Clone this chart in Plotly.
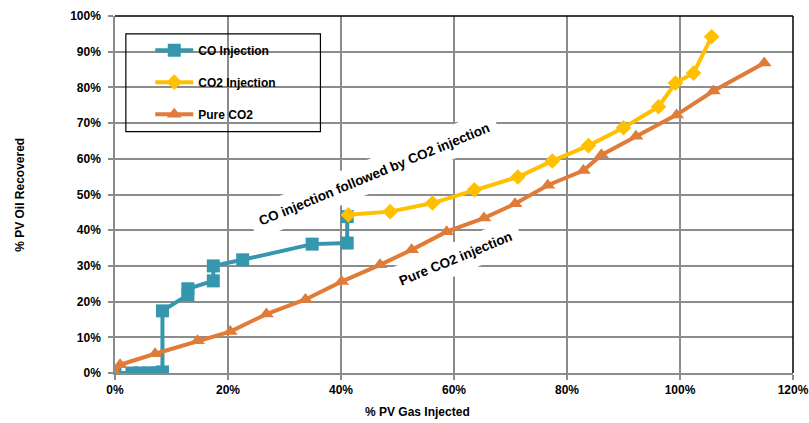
import plotly.graph_objects as go

# CO Injection (teal squares)
co_x = [0.0, 0.03, 0.045, 0.06, 0.07, 0.08, 0.084, 0.084, 0.129, 0.129, 0.174, 0.174, 0.226, 0.349, 0.411, 0.411]
co_y = [0.0, 0.0, 0.0, 0.0, 0.0, 0.0, 0.003, 0.174, 0.219, 0.236, 0.258, 0.300, 0.317, 0.361, 0.364, 0.438]

# CO2 Injection (yellow diamonds)
co2_x = [0.413, 0.487, 0.562, 0.636, 0.713, 0.774, 0.838, 0.900, 0.962, 0.992, 1.024, 1.056]
co2_y = [0.443, 0.452, 0.476, 0.513, 0.549, 0.594, 0.637, 0.687, 0.746, 0.812, 0.840, 0.942]

# Pure CO2 (orange triangles)
pure_x = [0.0, 0.009, 0.071, 0.146, 0.204, 0.268, 0.337, 0.401, 0.469, 0.525, 0.587, 0.653, 0.708, 0.766, 0.829, 0.861, 0.922, 0.994, 1.059, 1.149]
pure_y = [0.0, 0.023, 0.054, 0.090, 0.116, 0.165, 0.206, 0.256, 0.303, 0.345, 0.396, 0.434, 0.474, 0.526, 0.567, 0.611, 0.663, 0.723, 0.790, 0.868]

x_ticks = [0, 0.2, 0.4, 0.6, 0.8, 1.0, 1.2]
x_tick_labels = ["0%", "20%", "40%", "60%", "80%", "100%", "120%"]
y_ticks = [i / 10 for i in range(11)]
y_tick_labels = [f"{i*10}%" for i in range(11)]

TEAL = "#3597AE"
YELLOW = "#FFC000"
ORANGE = "#E07B39"
GRID = "#8C8C8C"
FONT = "Liberation Sans, Arial, sans-serif"

fig = go.Figure()
fig.add_trace(go.Scatter(x=co_x, y=co_y, mode="lines+markers", name="CO Injection",
                         legendgroup="a",
                         line=dict(color=TEAL, width=4),
                         marker=dict(symbol="square", size=13, color=TEAL)))
fig.add_trace(go.Scatter(x=co2_x, y=co2_y, mode="lines+markers", name="CO2 Injection",
                         legendgroup="b",
                         line=dict(color=YELLOW, width=4),
                         marker=dict(symbol="diamond", size=12, color=YELLOW)))
fig.add_trace(go.Scatter(x=pure_x, y=pure_y, mode="lines+markers", name="Pure CO2",
                         legendgroup="c",
                         line=dict(color=ORANGE, width=4),
                         marker=dict(symbol="triangle-up", size=13, color=ORANGE)))

axis_common = dict(showgrid=True, gridcolor=GRID, gridwidth=1.5,
                   showline=True, linecolor=GRID, linewidth=1.5,
                   ticks="outside", ticklen=5, tickcolor=GRID, tickwidth=1.5,
                   zeroline=False, automargin=False,
                   tickfont=dict(family=FONT, size=12, color="black", weight="bold"))

fig.update_layout(
    width=809, height=423, autosize=False,
    margin=dict(l=115, r=16, t=16, b=50),
    plot_bgcolor="white", paper_bgcolor="white",
    font=dict(family=FONT, color="black"),
    xaxis=dict(range=[0, 1.2], tickvals=x_ticks, ticktext=x_tick_labels, **axis_common),
    yaxis=dict(range=[0, 1.0], tickvals=y_ticks, ticktext=y_tick_labels,
               ticklabelstandoff=5, **axis_common),
    showlegend=True,
    legend=dict(x=0.052, y=0.945, xanchor="left", yanchor="top",
                bgcolor="rgba(0,0,0,0)", borderwidth=0,
                tracegroupgap=13, itemwidth=38,
                font=dict(family=FONT, size=12, color="black", weight="bold")),
)

# legend frame and top/right plot border (decorative)
fig.add_shape(type="rect", xref="paper", yref="paper", x0=0.016, x1=0.303, y0=0.676, y1=0.950,
              line=dict(color="black", width=1.2), fillcolor="rgba(0,0,0,0)", layer="above")
fig.add_shape(type="line", xref="paper", yref="paper", x0=0, x1=1, y0=1, y1=1,
              line=dict(color="black", width=1.5))
fig.add_shape(type="line", xref="paper", yref="paper", x0=1, x1=1, y0=0, y1=1,
              line=dict(color="black", width=1.5))

# in-plot labels
fig.add_annotation(x=0.458, y=0.557, xref="x", yref="y", text="CO injection followed by CO2 injection",
                   showarrow=False, textangle=-22.4, bgcolor="white", borderpad=8,
                   font=dict(family=FONT, size=13.5, color="black", weight="bold"))
fig.add_annotation(x=0.603, y=0.322, xref="x", yref="y", text="Pure CO2 injection",
                   showarrow=False, textangle=-22.3, bgcolor="white", borderpad=8,
                   font=dict(family=FONT, size=13.5, color="black", weight="bold"))

# axis titles
fig.add_annotation(x=(417 - 115) / 678, y=-0.108, xref="paper", yref="paper", text="% PV Gas Injected",
                   showarrow=False, xanchor="center", yanchor="middle",
                   font=dict(family=FONT, size=12, color="black", weight="bold"))
fig.add_annotation(x=-(115 - 20) / 678, y=(373.3 - 195) / 357.3, xref="paper", yref="paper",
                   text="% PV Oil Recovered", showarrow=False, textangle=-90,
                   xanchor="center", yanchor="middle",
                   font=dict(family=FONT, size=12, color="black", weight="bold"))

fig.write_html(
    "out.html",
    config={"displayModeBar": False, "responsive": False},
    post_script=(
        "document.body.style.margin='0';document.body.style.overflow='hidden';"
        "var gd=document.getElementById('{plot_id}');"
        "Plotly.relayout(gd,{width:809,height:423});"
    ),
)
